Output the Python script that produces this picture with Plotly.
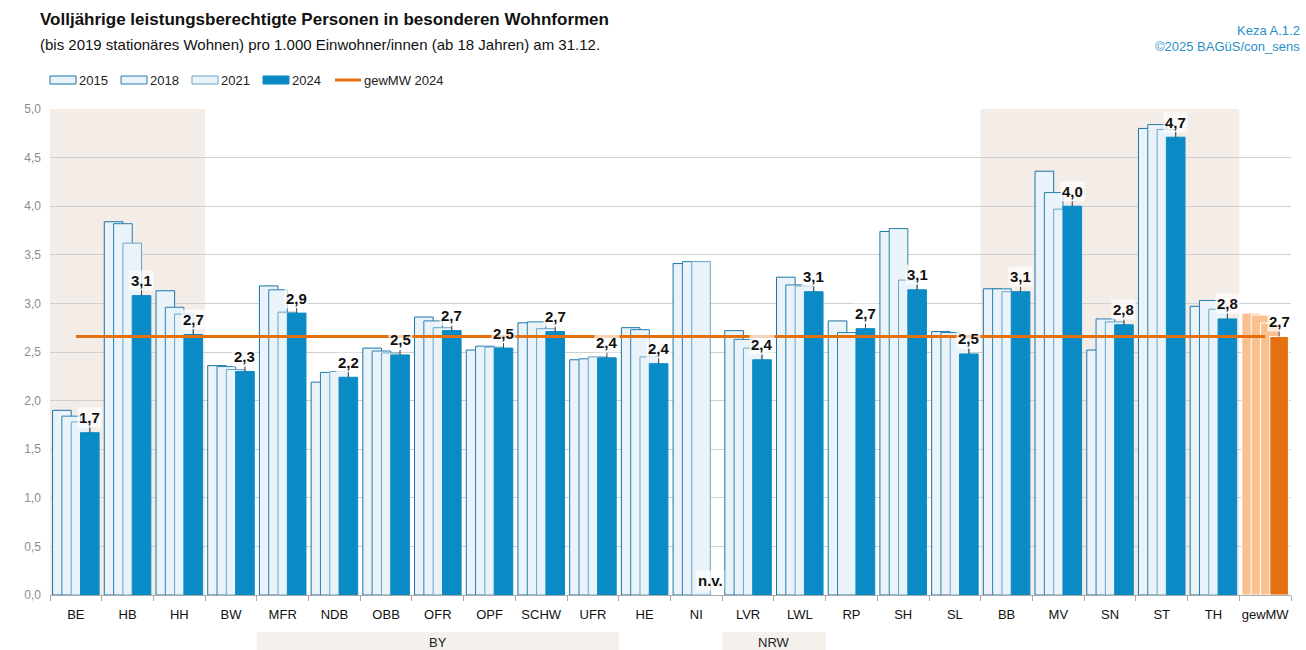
import plotly.graph_objects as go

# Daten
kategorien = ['BE', 'HB', 'HH', 'BW', 'MFR', 'NDB', 'OBB', 'OFR', 'OPF', 'SCHW', 'UFR', 'HE',
              'NI', 'LVR', 'LWL', 'RP', 'SH', 'SL', 'BB', 'MV', 'SN', 'ST', 'TH', 'gewMW']
jahre = ['2015', '2018', '2021', '2024']

w2015 = [1.90, 3.84, 3.13, 2.36, 3.18, 2.19, 2.54, 2.86, 2.52, 2.80, 2.42, 2.75,
         3.41, 2.72, 3.27, 2.82, 3.74, 2.71, 3.15, 4.36, 2.52, 4.80, 2.97, 2.90]
w2018 = [1.84, 3.82, 2.96, 2.35, 3.14, 2.29, 2.51, 2.82, 2.56, 2.81, 2.43, 2.73,
         3.43, 2.63, 3.19, 2.70, 3.77, 2.70, 3.15, 4.14, 2.84, 4.84, 3.03, 2.88]
w2021 = [1.78, 3.62, 2.89, 2.32, 2.91, 2.30, 2.49, 2.75, 2.55, 2.74, 2.45, 2.45,
         3.43, 2.54, 3.18, None, 3.24, 2.67, 3.12, 3.97, 2.81, 4.79, 2.94, 2.80]
w2024 = [1.67, 3.08, 2.68, 2.30, 2.90, 2.24, 2.47, 2.72, 2.54, 2.71, 2.44, 2.38,
         None, 2.42, 3.12, 2.74, 3.14, 2.48, 3.12, 4.00, 2.78, 4.71, 2.84, 2.66]

gruppen = [('BY', 'MFR', 'UFR'), ('NRW', 'LVR', 'LWL')]
hinterlegt = [('BE', 'HH'), ('BB', 'TH')]

FONT = 'Liberation Sans Narrow, Arial Narrow, Liberation Sans, Arial, sans-serif'
HELL = '#eaf3f9'
BLAU = '#0a8bc5'
ORANGE = '#e5700f'
ORANGE_HELL = '#f9c18f'
rand = ['#1b75a6', '#2a7fae', '#6aa4c6', BLAU]

W, H = 1306, 650
L, R, T, B = 50, 15, 109, 55
PW, PH = W - L - R, H - T - B


def px(xp):
    return (xp - L) / PW


def py(yp):
    return (H - B - yp) / PH


fig = go.Figure()

werte = [w2015, w2018, w2021, w2024]
for k, (jahr, vals) in enumerate(zip(jahre, werte)):
    if k < 3:
        farben = [ORANGE_HELL if c == 'gewMW' else HELL for c in kategorien]
    else:
        farben = [ORANGE if c == 'gewMW' else BLAU for c in kategorien]
    linien = ['white' if c == 'gewMW' else rand[k] for c in kategorien]
    fig.add_trace(go.Bar(
        x=kategorien, y=vals, name=jahr,
        width=0.36, offset=-0.45 + k * 0.18,
        marker=dict(color=farben, line=dict(color=linien, width=1)),
        showlegend=False, hoverinfo='x+y',
    ))

# gewichteter Mittelwert 2024
gew = w2024[kategorien.index('gewMW')]
fig.add_trace(go.Scatter(
    x=kategorien, y=[gew] * len(kategorien), mode='lines',
    line=dict(color=ORANGE, width=3), name='gewMW 2024', showlegend=False,
))

# Hinterlegte Bereiche
for a, b in hinterlegt:
    fig.add_shape(type='rect', xref='x', yref='paper',
                  x0=kategorien.index(a) - 0.5, x1=kategorien.index(b) + 0.5, y0=0, y1=1,
                  fillcolor='#f4ece6', line_width=0, layer='below')

# Gruppen unter der Achse
for name, a, b in gruppen:
    i0, i1 = kategorien.index(a), kategorien.index(b)
    fig.add_shape(type='rect', xref='x', yref='paper',
                  x0=i0 - 0.5, x1=i1 + 0.5, y0=py(650), y1=py(632),
                  fillcolor='#f4f0ec', line_width=0)
    fig.add_annotation(x=(i0 + i1) / 2, y=py(642), xref='x', yref='paper', text=name,
                       showarrow=False, font=dict(size=13, color='#222'), yanchor='middle')

# Werte 2024
for i, v in enumerate(w2024):
    if v is None:
        fig.add_annotation(x=i + 0.27, y=0, text='<b>n.v.</b>', showarrow=False, yshift=15,
                           bgcolor='rgba(255,255,255,0.7)', borderpad=1,
                           font=dict(size=15, color='#111'))
        continue
    fig.add_annotation(x=i + 0.27, y=v, text='<b>' + f'{v:.1f}'.replace('.', ',') + '</b>',
                       showarrow=True, arrowhead=0, arrowwidth=1, arrowcolor='#444',
                       ax=0, ay=-15, standoff=0,
                       bgcolor='rgba(255,255,255,0.7)', borderpad=1,
                       font=dict(size=15, color='#111'))

# Legende
leg = [(50, '2015', 0), (121, '2018', 1), (192, '2021', 2), (263, '2024', 3)]
for x0, txt, k in leg:
    fill = BLAU if k == 3 else HELL
    fig.add_shape(type='rect', xref='paper', yref='paper',
                  x0=px(x0), x1=px(x0 + 26), y0=py(84), y1=py(76),
                  fillcolor=fill, line=dict(color=rand[k], width=1))
    fig.add_annotation(xref='paper', yref='paper', x=px(x0 + 27), y=py(80), text=txt,
                       showarrow=False, xanchor='left', yanchor='middle',
                       font=dict(size=13, color='#222'))
fig.add_shape(type='line', xref='paper', yref='paper', x0=px(335), x1=px(361),
              y0=py(80), y1=py(80), line=dict(color=ORANGE, width=3))
fig.add_annotation(xref='paper', yref='paper', x=px(362), y=py(80), text='gewMW 2024',
                   showarrow=False, xanchor='left', yanchor='middle',
                   font=dict(size=13, color='#222'))

# Titel
fig.add_annotation(xref='paper', yref='paper', x=px(38), y=py(19), xanchor='left', yanchor='middle',
                   text='<b>Volljährige leistungsberechtigte Personen in besonderen Wohnformen</b>',
                   showarrow=False, font=dict(size=17, color='#111'))
fig.add_annotation(xref='paper', yref='paper', x=px(38), y=py(44), xanchor='left', yanchor='middle',
                   text='(bis 2019 stationäres Wohnen) pro 1.000 Einwohner/innen (ab 18 Jahren) am 31.12.',
                   showarrow=False, font=dict(size=15, color='#111'))
fig.add_annotation(xref='paper', yref='paper', x=px(1302), y=py(30), xanchor='right', yanchor='middle',
                   text='Keza A.1.2', showarrow=False, font=dict(size=13, color='#2a8fc7'))
fig.add_annotation(xref='paper', yref='paper', x=px(1302), y=py(46), xanchor='right', yanchor='middle',
                   text='©2025 BAGüS/con_sens', showarrow=False, font=dict(size=13, color='#2a8fc7'))

fig.update_layout(
    width=W, height=H,
    margin=dict(l=L, r=R, t=T, b=B),
    barmode='overlay',
    plot_bgcolor='white', paper_bgcolor='white',
    separators=',.',
    font=dict(family=FONT, size=13, color='#222'),
    showlegend=False,
)
fig.update_xaxes(type='category', categoryorder='array', categoryarray=kategorien,
                 range=[-0.5, len(kategorien) - 0.5], tickson='boundaries',
                 ticks='outside', ticklen=5, tickcolor='#aaa', tickangle=0,
                 showline=True, linecolor='#aaa', showgrid=False, automargin=False,
                 ticklabelstandoff=7, tickfont=dict(size=13, color='#111'))
fig.update_yaxes(range=[0, 5], dtick=0.5, tickformat='.1f', showgrid=True,
                 gridcolor='#cfcfcf', zeroline=False, showline=False, automargin=False,
                 tickfont=dict(size=12, color='#8c8c8c'), ticks='', ticklabelstandoff=8)

# Seitenrand entfernen, damit die Grafik genau das Fenster füllt
fig.write_html('out.html', config={'displayModeBar': False},
               post_script="document.body.style.margin='0';")
